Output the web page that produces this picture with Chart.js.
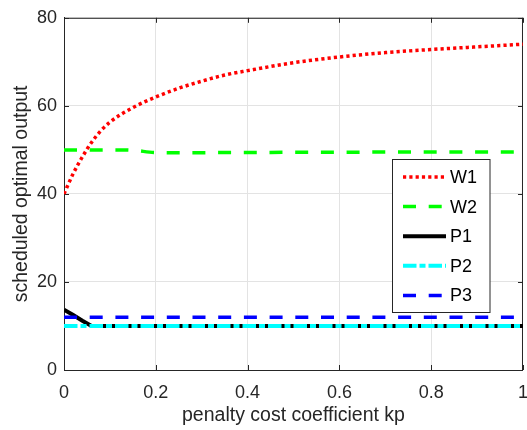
<!DOCTYPE html>
<html>
<head>
<meta charset="utf-8">
<script src="https://cdn.jsdelivr.net/npm/chart.js@4/dist/chart.umd.min.js"></script>
<style>
  html, body { margin: 0; padding: 0; background: #fff; overflow: hidden; }
  #outputChart { display: block; }
</style>
</head>
<body>
<canvas id="outputChart" width="540" height="430"></canvas>
<script>
// Data
const kp = [0, 0.02, 0.04, 0.06, 0.08, 0.1, 0.15, 0.2, 0.25, 0.3, 0.35, 0.4, 0.5, 0.6, 0.7, 0.8, 0.9, 1.0];
const w1 = [40, 44.6, 48.4, 51.7, 54.3, 56.3, 59.6, 62, 64, 65.6, 67, 68, 69.8, 71.1, 72.1, 72.8, 73.4, 74];
const w2 = [50, 50, 50, 50, 50, 50, 49.9, 49.4, 49.35, 49.35, 49.4, 49.4, 49.45, 49.45, 49.5, 49.5, 49.5, 49.5];
const p1 = [13.7, 12.5, 11.2, 10, 10, 10, 10, 10, 10, 10, 10, 10, 10, 10, 10, 10, 10, 10];
const p2 = [10, 10, 10, 10, 10, 10, 10, 10, 10, 10, 10, 10, 10, 10, 10, 10, 10, 10];
const p3 = [12, 12, 12, 12, 12, 12, 12, 12, 12, 12, 12, 12, 12, 12, 12, 12, 12, 12];
const xTicks = [0, 0.2, 0.4, 0.6, 0.8, 1];
const yTicks = [0, 20, 40, 60, 80];

const axisColor = '#262626';
const FONT = '"Liberation Sans", Arial, sans-serif';

function toPoints(ys) {
  return kp.map((x, i) => ({ x: x, y: ys[i] }));
}

// Inward tick marks and top/right box lines (MATLAB style)
const boxTicks = {
  id: 'boxTicks',
  beforeDatasetsDraw(chart) {
    const { ctx, chartArea: a, scales: { x, y } } = chart;
    ctx.save();
    ctx.strokeStyle = axisColor;
    ctx.lineWidth = 1;
    ctx.beginPath();
    ctx.moveTo(a.left, a.top + 0.5);
    ctx.lineTo(a.right, a.top + 0.5);
    ctx.moveTo(a.right - 0.5, a.top);
    ctx.lineTo(a.right - 0.5, a.bottom);
    xTicks.forEach(v => {
      const px = Math.round(x.getPixelForValue(v)) + 0.5;
      ctx.moveTo(px, a.bottom); ctx.lineTo(px, a.bottom - 5);
      ctx.moveTo(px, a.top); ctx.lineTo(px, a.top + 5);
    });
    yTicks.forEach(v => {
      const py = Math.round(y.getPixelForValue(v)) + 0.5;
      ctx.moveTo(a.left, py); ctx.lineTo(a.left + 5, py);
      ctx.moveTo(a.right, py); ctx.lineTo(a.right - 5, py);
    });
    ctx.stroke();
    ctx.restore();
  }
};

// Boxed legend like the MATLAB one
const boxLegend = {
  id: 'boxLegend',
  afterDraw(chart) {
    const ctx = chart.ctx;
    const bx = 392.5, by = 159.5, bw = 97.5, bh = 153;
    ctx.save();
    ctx.fillStyle = '#fff';
    ctx.fillRect(bx, by, bw, bh);
    ctx.strokeStyle = axisColor;
    ctx.lineWidth = 1;
    ctx.strokeRect(bx, by, bw, bh);
    chart.data.datasets.forEach((ds, i) => {
      const yy = by + 17.5 + i * 29.6;
      ctx.beginPath();
      ctx.setLineDash(ds.borderDash || []);
      ctx.lineCap = 'butt';
      ctx.strokeStyle = ds.borderColor;
      ctx.lineWidth = ds.borderWidth;
      ctx.moveTo(403, yy);
      ctx.lineTo(446, yy);
      ctx.stroke();
      ctx.setLineDash([]);
      ctx.fillStyle = '#000';
      ctx.font = '18px ' + FONT;
      ctx.textBaseline = 'middle';
      ctx.textAlign = 'left';
      ctx.fillText(ds.label, 450, yy + 1);
    });
    ctx.restore();
  }
};

const ctx = document.getElementById('outputChart').getContext('2d');
const outputChart = new Chart(ctx, {
  type: 'line',
  data: {
    datasets: [
      { label: 'W1', data: toPoints(w1), borderColor: '#ff0000', borderWidth: 3.5, borderDash: [3.2, 3.1], cubicInterpolationMode: 'monotone', order: 5 },
      { label: 'W2', data: toPoints(w2), borderColor: '#00ff00', borderWidth: 3.5, borderDash: [13, 12.7], cubicInterpolationMode: 'monotone', order: 4 },
      { label: 'P1', data: toPoints(p1), borderColor: '#000000', borderWidth: 4, tension: 0, order: 3 },
      { label: 'P2', data: toPoints(p2), borderColor: '#00ffff', borderWidth: 4, borderDash: [13.5, 3, 6, 3], tension: 0, order: 2 },
      { label: 'P3', data: toPoints(p3), borderColor: '#0000ff', borderWidth: 3.5, borderDash: [13, 12.7], tension: 0, order: 1 }
    ]
  },
  options: {
    responsive: false,
    animation: false,
    devicePixelRatio: 1,
    elements: { point: { radius: 0 }, line: { borderCapStyle: 'butt', fill: false } },
    layout: { autoPadding: false, padding: { left: 0, top: 15, right: 12, bottom: 0 } },
    plugins: { legend: { display: false }, tooltip: { enabled: false } },
    scales: {
      x: {
        type: 'linear',
        min: 0,
        max: 1,
        afterFit: s => { s.height = 60; },
        afterBuildTicks: s => { s.ticks = xTicks.map(v => ({ value: v })); },
        grid: { color: '#e3e3e3', drawTicks: false },
        border: { color: axisColor, width: 1 },
        ticks: { color: axisColor, padding: 12, font: { family: FONT, size: 18 }, maxRotation: 0, autoSkip: false, callback: v => String(v) },
        title: { display: true, text: 'penalty cost coefficient kp', color: axisColor, font: { family: FONT, size: 19.5 }, padding: { top: 0, bottom: 3 } }
      },
      y: {
        type: 'linear',
        min: 0,
        max: 80,
        afterFit: s => { s.width = 64; },
        afterBuildTicks: s => { s.ticks = yTicks.map(v => ({ value: v })); },
        grid: { color: '#e3e3e3', drawTicks: false },
        border: { color: axisColor, width: 1 },
        ticks: { color: axisColor, padding: 7, font: { family: FONT, size: 18 }, callback: v => String(v) },
        title: { display: true, text: 'scheduled optimal output', color: axisColor, font: { family: FONT, size: 19.5 }, padding: { top: 10, bottom: 0 } }
      }
    }
  },
  plugins: [boxTicks, boxLegend]
});
</script>
</body>
</html>
